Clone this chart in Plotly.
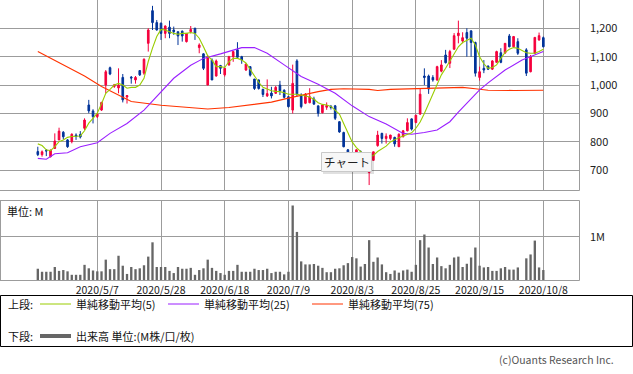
import plotly.graph_objects as go

W, H = 633, 374

dates = [
    "2020/4/13", "2020/4/14", "2020/4/15", "2020/4/16", "2020/4/17", "2020/4/20", "2020/4/21",
    "2020/4/22", "2020/4/23", "2020/4/24", "2020/4/27", "2020/4/28", "2020/4/30",
    "2020/5/1", "2020/5/7", "2020/5/8", "2020/5/11", "2020/5/12", "2020/5/13", "2020/5/14",
    "2020/5/15", "2020/5/18", "2020/5/19", "2020/5/20", "2020/5/21", "2020/5/22", "2020/5/25",
    "2020/5/26", "2020/5/27", "2020/5/28", "2020/5/29",
    "2020/6/1", "2020/6/2", "2020/6/3", "2020/6/4", "2020/6/5", "2020/6/8", "2020/6/9",
    "2020/6/10", "2020/6/11", "2020/6/12", "2020/6/15", "2020/6/16", "2020/6/17", "2020/6/18",
    "2020/6/19", "2020/6/22", "2020/6/23", "2020/6/24", "2020/6/25", "2020/6/26", "2020/6/29",
    "2020/6/30",
    "2020/7/1", "2020/7/2", "2020/7/3", "2020/7/6", "2020/7/7", "2020/7/8", "2020/7/9",
    "2020/7/10", "2020/7/13", "2020/7/14", "2020/7/15", "2020/7/16", "2020/7/17", "2020/7/20",
    "2020/7/21", "2020/7/22", "2020/7/27", "2020/7/28", "2020/7/29", "2020/7/30", "2020/7/31",
    "2020/8/3", "2020/8/4", "2020/8/5", "2020/8/6", "2020/8/7", "2020/8/11", "2020/8/12",
    "2020/8/13", "2020/8/14", "2020/8/17", "2020/8/18", "2020/8/19", "2020/8/20", "2020/8/21",
    "2020/8/24", "2020/8/25", "2020/8/26", "2020/8/27", "2020/8/28", "2020/8/31",
    "2020/9/1", "2020/9/2", "2020/9/3", "2020/9/4", "2020/9/7", "2020/9/8", "2020/9/9",
    "2020/9/10", "2020/9/11", "2020/9/14", "2020/9/15", "2020/9/16", "2020/9/17", "2020/9/18",
    "2020/9/23", "2020/9/24", "2020/9/25", "2020/9/28", "2020/9/29", "2020/9/30",
    "2020/10/1", "2020/10/2", "2020/10/5", "2020/10/6", "2020/10/7", "2020/10/8",
]

opens = [766, 755, 770, 748, 777, 807, 834, 807, 801, 824, 826, 848, 930, 909, 889, 912, 1000, 1061,
         995, 990, 1027, 958, 1028, 1018, 1051, 1042, 1147, 1262, 1220, 1218, 1182, 1204, 1194, 1188,
         1190, 1153, 1188, 1200, 1132, 1110, 1000, 1088, 1032, 1069, 1036, 1071, 1100, 1124, 1100,
         1053, 1065, 1021, 1018, 985, 962, 972, 971, 1000, 982, 959, 912, 1085, 965, 936, 938, 951,
         927, 903, 922, 925, 927, 871, 833, 772, 752, 738, 765, 750, 692, 735, 787, 830, 812, 812,
         816, 783, 818, 839, 881, 868, 898, 1032, 1032, 1027, 1018, 1049, 1106, 1077, 1126, 1174,
         1155, 1185, 1191, 1150, 1027, 1059, 1067, 1056, 1080, 1114, 1113, 1173, 1135, 1153, None,
         1124, 1047, 1112, 1159, 1167]
highs = [783, 770, 775, 773, 830, 850, 838, 810, 830, 830, 838, 883, 948, 915, 901, 941, 1053, 1065,
         1004, 1059, 1039, 965, 1032, 1032, 1053, 1094, 1200, 1279, 1229, 1220, 1210, 1227, 1206, 1188,
         1192, 1182, 1208, 1202, 1147, 1112, 1106, 1094, 1090, 1071, 1061, 1103, 1120, 1151, 1103,
         1076, 1066, 1022, 1020, 987, 1020, 994, 997, 1015, 985, 962, 1072, 1091, 971, 972, 989, 959,
         927, 932, 939, 930, 930, 873, 836, 775, 760, 774, 770, 755, 745, 766, 839, 832, 830, 825,
         818, 830, 842, 883, 883, 895, 986, 1059, 1037, 1035, 1068, 1088, 1124, 1124, 1183, 1227,
         1186, 1200, 1192, 1153, 1065, 1088, 1069, 1088, 1121, 1130, 1147, 1180, 1173, 1165, None,
         1130, 1106, 1168, 1185, 1171]
lows = [750, 748, 750, 745, 775, 806, 809, 779, 795, 807, 812, 842, 901, 865, 884, 909, 971, 1035,
        990, 971, 939, 935, 1005, 1005, 1032, 1036, 1118, 1194, 1192, 1159, 1165, 1165, 1177, 1141,
        1153, 1150, 1182, 1159, 1112, 1053, 1000, 1018, 1030, 1039, 1030, 1068, 1082, 1094, 1075,
        1050, 1030, 983, 984, 958, 958, 953, 969, 965, 953, 921, 900, 960, 918, 933, 936, 930,
        889, 900, 913, 914, 877, 832, 781, 745, 725, 735, 740, 712, 648, 733, 783, 794, 794, 806,
        783, 782, 816, 837, 840, 866, 895, 1000, 969, 1012, 1015, 1045, 1076, 1060, 1126, 1147,
        1147, 1100, 1100, 1030, 1016, 1042, 1053, 1053, 1079, 1077, 1110, 1133, 1133, 1106, None,
        1032, 1045, 1110, 1156, 1133]
closes = [755, 765, 768, 771, 803, 838, 818, 783, 827, 819, 817, 877, 909, 889, 898, 939, 1047, 1039,
          1001, 1000, 948, 963, 1025, 1027, 1036, 1091, 1194, 1220, 1194, 1182, 1208, 1182, 1188, 1173,
          1173, 1182, 1196, 1182, 1141, 1059, 1100, 1018, 1085, 1059, 1059, 1100, 1118, 1098, 1088,
          1074, 1035, 988, 988, 967, 970, 962, 992, 980, 957, 924, 1006, 969, 924, 968, 959, 933,
          901, 930, 928, 921, 883, 835, 783, 750, 735, 772, 750, 720, 700, 765, 824, 812, 820, 824,
          793, 827, 839, 868, 845, 894, 968, 1027, 986, 1018, 1065, 1071, 1079, 1118, 1174, 1183,
          1167, 1165, 1150, 1042, 1047, 1053, 1056, 1085, 1118, 1080, 1147, 1135, 1171, 1112, None,
          1042, 1100, 1168, 1174, 1135]

volume_m = [0.26, 0.19, 0.19, 0.19, 0.30, 0.21, 0.23, 0.20, 0.12, 0.12,
            0.12, 0.35, 0.27, 0.22, 0.20, 0.20, 0.47, 0.25, 0.25, 0.56,
            0.33, 0.14, 0.30, 0.25, 0.27, 0.34, 0.54, 0.87, 0.30, 0.30,
            0.30, 0.21, 0.16, 0.30, 0.26, 0.26, 0.28, 0.12, 0.23, 0.27,
            0.47, 0.28, 0.21, 0.16, 0.12, 0.21, 0.21, 0.35, 0.19, 0.19,
            0.19, 0.26, 0.23, 0.23, 0.26, 0.16, 0.19, 0.19, 0.13, 0.19,
            1.72, 1.11, 0.43, 0.36, 0.36, 0.37, 0.33, 0.28, 0.18, 0.18,
            0.26, 0.27, 0.34, 0.39, 0.53, 0.50, 0.31, 0.37, 0.92, 0.42,
            0.52, 0.36, 0.18, 0.14, 0.22, 0.17, 0.22, 0.24, 0.19, 0.35,
            0.92, 1.05, 0.75, 0.37, 0.52, 0.32, 0.27, 0.35, 0.52, 0.54,
            0.30, 0.375, 0.52, 0.75, 0.33, 0.29, 0.30, 0.21, 0.21, 0.27,
            0.30, 0.24, 0.24, 0.29, None, 0.50, 0.59, 0.91, 0.29, 0.23]

ma5 = [793, 787, 772, 769, 783, 801, 807, 816, 819, 819, 821, 839, 866, 883, 901, 934, 971, 985,
       1000, 1006, 1000, 989, 992, 992, 1000, 1024, 1083, 1130, 1171, 1196, 1194, 1188, 1182, 1179,
       1182, 1182, 1185, 1182, 1165, 1135, 1103, 1088, 1065, 1065, 1062, 1083, 1094, 1094, 1088,
       1078, 1055, 1030, 1010, 992, 985, 980, 978, 977, 973, 968, 968, 968, 965, 962, 958, 950,
       938, 932, 930, 925, 910, 898, 865, 830, 800, 780, 766, 752, 748, 752, 766, 775, 785, 800,
       809, 815, 821, 827, 832, 848, 870, 900, 935, 970, 1006, 1036, 1059, 1085, 1106, 1135,
       1150, 1159, 1165, 1141, 1100, 1075, 1059, 1062, 1071, 1094, 1115, 1126, 1132, 1130, 1122,
       1114, 1112, 1112, 1118, 1126]

ma25_idx = [0, 2, 4, 7, 10, 14, 17, 21, 25, 29, 32, 36, 39, 43, 46, 48, 51, 54, 58, 62, 66, 70, 74,
            78, 82, 86, 88, 91, 94, 97, 99, 102, 104, 106, 110, 114, 118, 119]
ma25_val = [742, 739, 758, 762, 783, 797, 830, 865, 912, 977, 1024, 1070, 1094, 1110, 1124, 1132,
            1132, 1112, 1071, 1030, 1003, 971, 927, 889, 863, 830, 827, 833, 842, 871, 905, 952,
            983, 1008, 1053, 1088, 1112, 1118]

ma75_idx = [0, 7, 11, 15, 18, 22, 29, 35, 40, 45, 51, 55, 59, 62, 66, 69, 72, 78, 80, 83, 90, 97,
            100, 103, 106, 112, 119]
ma75_val = [1118, 1065, 1032, 995, 971, 942, 929, 922, 916, 921, 933, 940, 954, 965, 977, 985, 987,
            985, 981, 985, 987, 990, 992, 987, 982, 981, 982]

tick_dates = ["2020/5/7", "2020/5/28", "2020/6/18", "2020/7/9", "2020/8/3", "2020/8/25",
              "2020/9/15", "2020/10/8"]
price_ticks = [700, 800, 900, 1000, 1100, 1200]
volume_ticks = [1_000_000]
volume_tick_text = ["1M"]

UP = "#f5003c"
DOWN = "#003399"
GRID = "#9c9c9c"
FONT = "Noto Sans CJK JP, Noto Sans, sans-serif"


def px(x):
    return x / W


def py(y):
    return 1 - y / H


volumes = [None if v is None else v * 1_000_000 for v in volume_m]

fig = go.Figure()
fig.add_trace(go.Candlestick(
    x=dates, open=opens, high=highs, low=lows, close=closes,
    increasing=dict(line=dict(color=UP, width=1), fillcolor=UP),
    decreasing=dict(line=dict(color=DOWN, width=1), fillcolor=DOWN),
    whiskerwidth=0, xaxis="x", yaxis="y", hoverinfo="skip",
))
fig.add_trace(go.Scatter(x=[dates[i] for i in ma75_idx], y=ma75_val, mode="lines",
                         line=dict(color="#ff3300", width=1.1), xaxis="x", yaxis="y"))
fig.add_trace(go.Scatter(x=[dates[i] for i in ma25_idx], y=ma25_val, mode="lines",
                         line=dict(color="#9a1fff", width=1.1), xaxis="x", yaxis="y"))
fig.add_trace(go.Scatter(x=dates, y=ma5, mode="lines",
                         line=dict(color="#99cc00", width=1.1), xaxis="x", yaxis="y"))
fig.add_trace(go.Bar(x=dates, y=volumes, marker=dict(color="#666666", line=dict(width=0)),
                     xaxis="x2", yaxis="y2"))

x_dom = [0, px(579)]
x_range = [-8.9, 127.4]
common_x = dict(type="category", categoryorder="array", categoryarray=dates, range=x_range,
                tickvals=tick_dates, ticktext=tick_dates, showgrid=True, gridcolor=GRID,
                gridwidth=1, zeroline=False, showline=False, ticks="", fixedrange=True)

fig.update_layout(
    width=W, height=H, margin=dict(l=0, r=0, t=0, b=0),
    paper_bgcolor="white", plot_bgcolor="white", showlegend=False, hovermode=False,
    boxgap=0.45, bargap=0.45,
    font=dict(family=FONT, color="#222222", size=11),
    xaxis=dict(domain=x_dom, anchor="y", showticklabels=False,
               rangeslider=dict(visible=False), **common_x),
    yaxis=dict(domain=[py(190), 1], range=[630.6, 1299.6], side="right", anchor="x",
               tickvals=price_ticks, tickformat=",d", showgrid=True, gridcolor=GRID,
               zeroline=False, ticks="", ticklabelstandoff=10,
               tickfont=dict(size=11, color="#222222"), fixedrange=True),
    xaxis2=dict(domain=x_dom, anchor="y2", showticklabels=True, ticklabelstandoff=2,
                tickfont=dict(size=10.5, color="#222222"), **common_x),
    yaxis2=dict(domain=[py(280), py(201)], range=[0, 1.824e6], side="right", anchor="x2",
                tickvals=volume_ticks, ticktext=volume_tick_text, showgrid=True, gridcolor=GRID,
                zeroline=False, ticks="", ticklabelstandoff=10,
                tickfont=dict(size=11, color="#222222"), fixedrange=True),
)

shapes = []


def hline(x0, x1, y, color=GRID, width=1):
    shapes.append(dict(type="line", xref="paper", yref="paper", x0=px(x0), x1=px(x1),
                       y0=py(y), y1=py(y), line=dict(color=color, width=width)))


def vline(x, y0, y1, color=GRID, width=1):
    shapes.append(dict(type="line", xref="paper", yref="paper", x0=px(x), x1=px(x),
                       y0=py(y0), y1=py(y1), line=dict(color=color, width=width)))


# panel borders
hline(0, 579.5, 190.5)
vline(579.5, 0, 190.5)
hline(0, 579.5, 200.5)
hline(0, 579.5, 280.5)
vline(579.5, 200.5, 280.5)
vline(0.5, 200.5, 280.5)

# tooltip box
shapes.append(dict(type="rect", xref="paper", yref="paper", x0=px(323), x1=px(374),
                   y0=py(174), y1=py(154), fillcolor="rgba(0,0,0,0.12)", line=dict(width=0)))
shapes.append(dict(type="rect", xref="paper", yref="paper", x0=px(321.5), x1=px(371.5),
                   y0=py(171.5), y1=py(152.5), fillcolor="#f7f7f7",
                   line=dict(color="#c9c9c9", width=1)))

# legend box
shapes.append(dict(type="rect", xref="paper", yref="paper", x0=px(0.5), x1=px(632.5),
                   y0=py(346.5), y1=py(295.5), line=dict(color="#000000", width=1)))
hline(40, 71, 304, color="#99cc00", width=1)
hline(168, 199, 304, color="#9a1fff", width=1)
hline(312, 343, 304, color="#ff3300", width=1)
hline(40, 71, 336, color="#666666", width=4)

fig.update_layout(shapes=shapes)

annotations = []


def text(x, y, s, size=11, color="#111111", xanchor="left"):
    annotations.append(dict(xref="paper", yref="paper", x=px(x), y=py(y), text=s,
                            showarrow=False, xanchor=xanchor, yanchor="middle",
                            font=dict(size=size, color=color, family=FONT)))


text(5, 211, "単位: M")
text(346.5, 162, "チャート", size=11.5, color="#222222", xanchor="center")
text(6, 304, "上段:")
text(74, 304, "単純移動平均(5)")
text(202, 304, "単純移動平均(25)")
text(346, 304, "単純移動平均(75)")
text(6, 336, "下段:")
text(74, 336, "出来高 単位:(M株/口/枚)")
text(616, 359, "(c)Ouants Research Inc.", size=10.5, color="#555555", xanchor="right")

fig.update_layout(annotations=annotations)

fig.write_html(
    "out.html",
    config={"displayModeBar": False, "staticPlot": True},
    post_script="document.body.style.margin='0';document.body.style.padding='0';"
                "document.documentElement.style.overflow='hidden';",
)
